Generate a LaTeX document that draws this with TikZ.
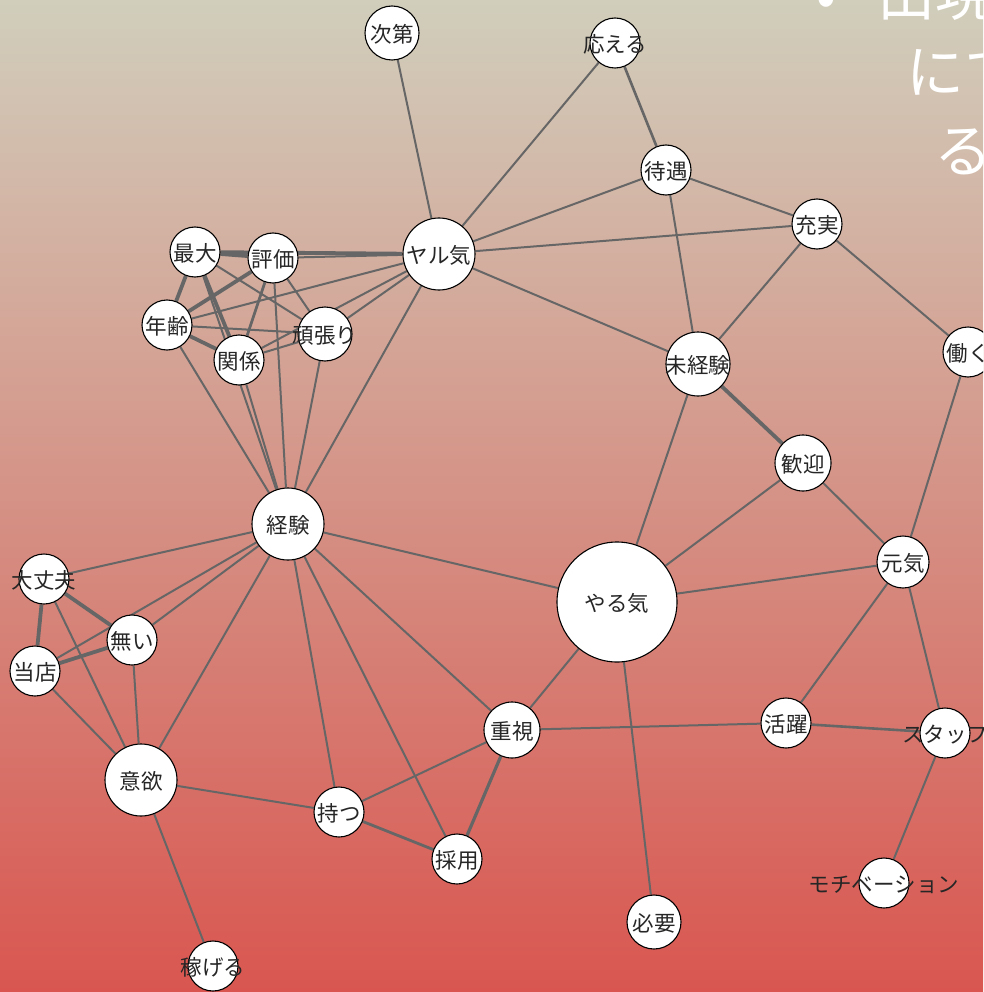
\documentclass[tikz,border=0pt]{standalone}
\usepackage{fontspec}
\setmainfont{Noto Sans CJK JP}
\usetikzlibrary{backgrounds}
\definecolor{bgTop}{HTML}{D1CEBC}
\definecolor{bgMid}{HTML}{D7978B}
\definecolor{bgBottom}{HTML}{D95650}
\definecolor{edgeGray}{HTML}{666666}
\pgfdeclarelayer{edges}
\pgfsetlayers{background,edges,main}
\begin{document}
\begin{tikzpicture}[x=1pt,y=-1pt,
  font=\fontsize{21.5}{23}\selectfont,
  term/.style={circle,draw=black,line width=1.1pt,fill=white,inner sep=0pt,minimum size=50pt,
    label={[text=black!85,inner sep=0pt,yshift=-1.5pt]center:#1}},
  edge/.style={draw=edgeGray,line width=2pt},
  heavy/.style={draw=edgeGray,line width=3.8pt},
  note/.style={text=white,font=\fontsize{58}{60}\selectfont,anchor=west,inner sep=0pt}
]
\useasboundingbox (0,0) rectangle (983,992);
\clip (0,0) rectangle (983,992);
\begin{scope}[on background layer]
\shade[top color=bgTop,middle color=bgMid,bottom color=bgBottom] (0,0) rectangle (983,992);
\end{scope}
% co-occurrence network: circle size follows the word count
\node[term=次第,minimum size=54pt] (shidai) at (392,33) {};
\node[term=応える] (kotaeru) at (615,43) {};
\node[term=待遇] (taiguu) at (666,170) {};
\node[term=充実] (juujitsu) at (817,224) {};
\node[term=ヤル気,minimum size=72pt] (yarukiKata) at (439,254) {};
\node[term=最大] (saidai) at (195,252) {};
\node[term=評価] (hyouka) at (273,258) {};
\node[term=年齢] (nenrei) at (167,325) {};
\node[term=関係] (kankei) at (239,360) {};
\node[term=頑張り,minimum size=54pt] (ganbari) at (325,334) {};
\node[term=未経験,minimum size=64pt] (mikeiken) at (698,364) {};
\node[term=働く] (hataraku) at (968,352) {};
\node[term=歓迎,minimum size=56pt] (kangei) at (803,463) {};
\node[term=経験,minimum size=72pt] (keiken) at (288,524) {};
\node[term=元気,minimum size=52pt] (genki) at (903,562) {};
\node[term=やる気,minimum size=120pt] (yaruki) at (617,602) {};
\node[term=大丈夫] (daijoubu) at (44,579) {};
\node[term=無い] (nai) at (132,640) {};
\node[term=当店] (touten) at (35,671) {};
\node[term=意欲,minimum size=72pt] (iyoku) at (141,780) {};
\node[term=重視,minimum size=56pt] (juushi) at (512,730) {};
\node[term=活躍] (katsuyaku) at (786,723) {};
\node[term=スタッフ] (staff) at (945,733) {};
\node[term=持つ] (motsu) at (339,812) {};
\node[term=採用] (saiyou) at (457,859) {};
\node[term=必要,minimum size=54pt] (hitsuyou) at (654,922) {};
\node[term=モチベーション] (motivation) at (884,883) {};
\node[term=稼げる] (kasegeru) at (213,966) {};
\node[note] (bullet) at (816,4) {•};
\node[note] (line1) at (877,-6) {出現};
\node[note] (line2) at (906,72) {にて};
\node[note] (line3) at (934,152) {る};
\begin{pgfonlayer}{edges}
\draw[edge] (shidai) -- (yarukiKata);
\draw[edge] (kotaeru) -- (yarukiKata);
\draw[edge,line width=2.6pt] (kotaeru) -- (taiguu);
\draw[edge] (taiguu) -- (yarukiKata);
\draw[edge] (taiguu) -- (juujitsu);
\draw[edge] (taiguu) -- (mikeiken);
\draw[edge] (juujitsu) -- (yarukiKata);
\draw[edge] (juujitsu) -- (mikeiken);
\draw[edge] (juujitsu) -- (hataraku);
\draw[heavy] (yarukiKata) -- (saidai);
\draw[edge] (yarukiKata) -- (hyouka);
\draw[edge] (yarukiKata) -- (nenrei);
\draw[edge] (yarukiKata) -- (kankei);
\draw[edge] (yarukiKata) -- (ganbari);
\draw[edge] (yarukiKata) -- (mikeiken);
\draw[edge] (yarukiKata) -- (keiken);
\draw[heavy] (saidai) -- (hyouka);
\draw[heavy] (saidai) -- (nenrei);
\draw[heavy] (saidai) -- (kankei);
\draw[edge] (saidai) -- (ganbari);
\draw[edge] (saidai) -- (keiken);
\draw[heavy] (hyouka) -- (nenrei);
\draw[edge,line width=2.8pt] (hyouka) -- (kankei);
\draw[edge] (hyouka) -- (ganbari);
\draw[edge] (hyouka) -- (keiken);
\draw[heavy] (nenrei) -- (kankei);
\draw[edge] (nenrei) -- (ganbari);
\draw[edge] (nenrei) -- (keiken);
\draw[edge] (kankei) -- (ganbari);
\draw[edge] (kankei) -- (keiken);
\draw[edge] (ganbari) -- (keiken);
\draw[heavy] (mikeiken) -- (kangei);
\draw[edge] (mikeiken) -- (yaruki);
\draw[edge] (kangei) -- (yaruki);
\draw[edge] (kangei) -- (genki);
\draw[edge] (hataraku) -- (genki);
\draw[edge] (genki) -- (yaruki);
\draw[edge] (genki) -- (katsuyaku);
\draw[edge] (genki) -- (staff);
\draw[edge] (keiken) -- (yaruki);
\draw[edge] (keiken) -- (daijoubu);
\draw[edge] (keiken) -- (nai);
\draw[edge] (keiken) -- (touten);
\draw[edge] (keiken) -- (iyoku);
\draw[edge] (keiken) -- (motsu);
\draw[edge] (keiken) -- (saiyou);
\draw[edge] (keiken) -- (juushi);
\draw[edge] (yaruki) -- (juushi);
\draw[edge] (yaruki) -- (hitsuyou);
\draw[heavy] (daijoubu) -- (nai);
\draw[heavy] (daijoubu) -- (touten);
\draw[edge] (daijoubu) -- (iyoku);
\draw[heavy] (nai) -- (touten);
\draw[edge] (nai) -- (iyoku);
\draw[edge] (touten) -- (iyoku);
\draw[edge] (iyoku) -- (motsu);
\draw[edge] (iyoku) -- (kasegeru);
\draw[edge] (juushi) -- (motsu);
\draw[edge,line width=3.2pt] (juushi) -- (saiyou);
\draw[edge] (juushi) -- (katsuyaku);
\draw[edge,line width=2.8pt] (motsu) -- (saiyou);
\draw[edge,line width=2.6pt] (katsuyaku) -- (staff);
\draw[edge] (staff) -- (motivation);
\end{pgfonlayer}
\end{tikzpicture}
\end{document}
